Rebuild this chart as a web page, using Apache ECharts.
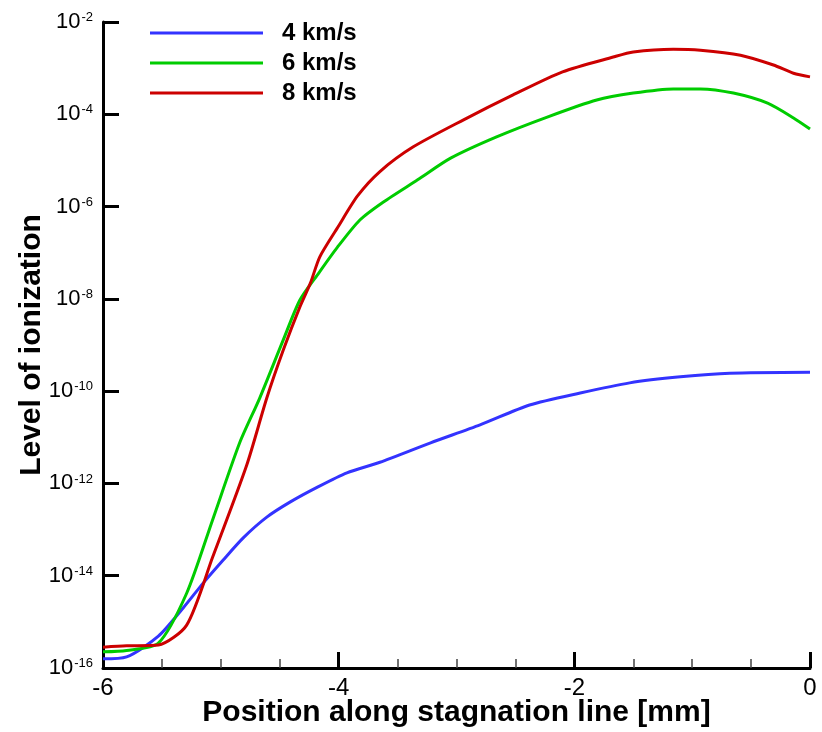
<!DOCTYPE html>
<html>
<head>
<meta charset="utf-8">
<script src="https://cdn.jsdelivr.net/npm/echarts@6/dist/echarts.min.js"></script>
<style>
html,body{margin:0;padding:0;background:#fff;}
#chart{width:822px;height:732px;}
</style>
</head>
<body>
<div id="chart"></div>
<script>
var seriesNames = ['4 km/s', '6 km/s', '8 km/s'];
var xTicks = [-6, -4, -2, 0];

var blueX = [-6, -5.8, -5.53, -5.32, -5.15, -4.98, -4.81, -4.61, -4.41, -4.18, -3.93, -3.65, -3.22, -2.8, -2.38, -1.95, -1.53, -1.1, -0.68, 0];
var blueY = [1.58e-16, 1.74e-16, 4.90e-16, 2.00e-15, 6.92e-15, 2.19e-14, 6.61e-14, 1.86e-13, 3.98e-13, 8.32e-13, 1.70e-12, 2.88e-12, 7.59e-12, 1.86e-11, 5.01e-11, 9.12e-11, 1.51e-10, 2.04e-10, 2.45e-10, 2.57e-10];

var greenX = [-6, -5.8, -5.53, -5.29, -5.07, -4.84, -4.67, -4.47, -4.33, -4.18, -4.01, -3.82, -3.62, -3.33, -3.05, -2.66, -2.23, -1.81, -1.5, -1.16, -0.93, -0.65, -0.36, -0.14, 0];
var greenY = [2.24e-16, 2.40e-16, 3.47e-16, 4.17e-15, 1.62e-13, 7.59e-12, 7.08e-11, 1.29e-9, 9.33e-9, 3.31e-8, 1.32e-7, 5.13e-7, 1.26e-6, 3.80e-6, 1.12e-5, 3.24e-5, 8.71e-5, 2.04e-4, 2.88e-4, 3.55e-4, 3.55e-4, 2.88e-4, 1.74e-4, 8.32e-5, 4.79e-5];

var redX = [-6, -5.8, -5.53, -5.29, -5.07, -4.78, -4.61, -4.47, -4.33, -4.24, -4.16, -4.01, -3.84, -3.65, -3.37, -2.94, -2.52, -2.1, -1.67, -1.5, -1.16, -0.93, -0.59, -0.31, -0.14, 0];
var redY = [2.82e-16, 3.02e-16, 3.16e-16, 8.51e-16, 2.51e-14, 2.51e-12, 7.08e-11, 7.76e-10, 6.61e-9, 2.19e-8, 8.13e-8, 3.47e-7, 1.70e-6, 5.75e-6, 1.95e-5, 7.59e-5, 2.63e-4, 8.32e-4, 1.74e-3, 2.24e-3, 2.57e-3, 2.45e-3, 1.91e-3, 1.17e-3, 7.76e-4, 6.46e-4];

var colors = ['#3333ff', '#00cc00', '#cc0000'];

function pairs(xs, ys) {
  var out = [];
  for (var i = 0; i < xs.length; i++) out.push([xs[i], ys[i]]);
  return out;
}

var FONT = '"Liberation Sans", Arial, Helvetica, sans-serif';
var chart = echarts.init(document.getElementById('chart'), null, {renderer: 'canvas'});

function lineSeries(i, xs, ys) {
  return {
    name: seriesNames[i], type: 'line', data: pairs(xs, ys),
    showSymbol: false, symbol: 'none', smooth: 0.25,
    lineStyle: {color: colors[i], width: 3}, itemStyle: {color: colors[i]}
  };
}

var option = {
  backgroundColor: '#fff',
  animation: false,
  textStyle: {fontFamily: FONT},
  grid: {left: 103, right: 12, top: 22, bottom: 64, containLabel: false, outerBoundsMode: 'none'},
  legend: {
    orient: 'vertical',
    left: 150,
    top: 21,
    padding: 0,
    itemWidth: 113,
    itemHeight: 3,
    itemGap: 6,
    icon: 'rect',
    data: seriesNames,
    textStyle: {fontFamily: FONT, fontSize: 24, fontWeight: 'bold', color: '#000', padding: [0, 0, 0, 14]}
  },
  xAxis: {
    type: 'value',
    min: -6,
    max: 0,
    interval: 2,
    name: 'Position along stagnation line [mm]',
    nameLocation: 'middle',
    nameGap: 30,
    nameMoveOverlap: false,
    nameTextStyle: {fontFamily: FONT, fontSize: 30, fontWeight: 'bold', color: '#000'},
    axisLine: {show: true, onZero: false, lineStyle: {color: '#000', width: 3}},
    axisTick: {show: true, inside: true, length: 16, lineStyle: {color: '#000', width: 3}},
    minorTick: {show: true, splitNumber: 4, length: 9, lineStyle: {color: '#444', width: 1.5}},
    splitLine: {show: false},
    axisLabel: {
      margin: 8,
      fontFamily: FONT,
      fontSize: 24,
      color: '#000',
      formatter: function (v) { return xTicks.indexOf(v) >= 0 ? String(v) : ''; }
    }
  },
  yAxis: {
    type: 'log',
    logBase: 10,
    min: 1e-16,
    max: 1e-2,
    interval: 2,
    name: 'Level of ionization',
    nameLocation: 'middle',
    nameGap: 56,
    nameMoveOverlap: false,
    nameRotate: 90,
    nameTextStyle: {fontFamily: FONT, fontSize: 30, fontWeight: 'bold', color: '#000'},
    axisLine: {show: true, onZero: false, lineStyle: {color: '#000', width: 3}},
    axisTick: {show: true, inside: true, length: 16, lineStyle: {color: '#000', width: 3}},
    minorTick: {show: false},
    splitLine: {show: false},
    axisLabel: {
      margin: 10,
      color: '#000',
      formatter: function (v) {
        var e = Math.round(Math.log(v) / Math.LN10);
        return '{b|10}{s|' + e + '}';
      },
      rich: {
        b: {fontFamily: FONT, fontSize: 22, color: '#000', lineHeight: 22, verticalAlign: 'bottom'},
        s: {fontFamily: FONT, fontSize: 13, color: '#000', lineHeight: 13, verticalAlign: 'top', padding: [0, 0, 0, 1]}
      }
    }
  },
  series: [
    lineSeries(0, blueX, blueY),
    lineSeries(1, greenX, greenY),
    lineSeries(2, redX, redY)
  ]
};
chart.setOption(option);
</script>
</body>
</html>
